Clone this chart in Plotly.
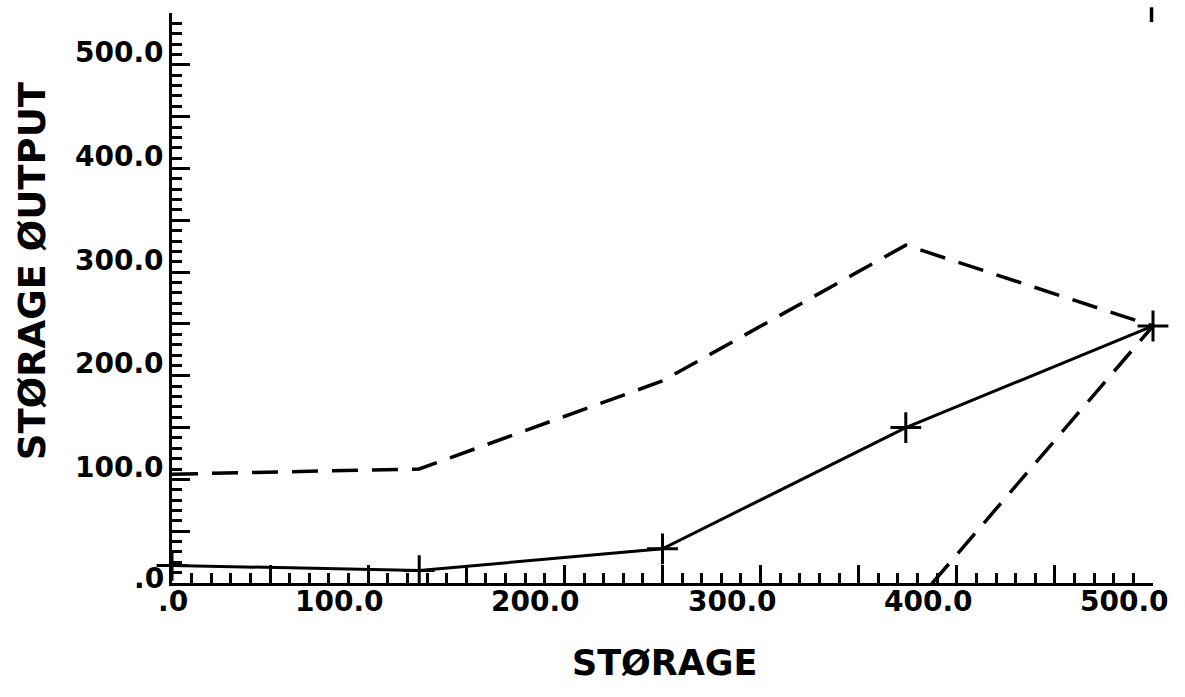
import plotly.graph_objects as go

# ---- data ----
storage = [0, 126, 250, 374, 500]
output_mean = [17, 12, 33, 150, 248]
output_upper = [105, 110, 195, 326, 248]
lower_x = [374, 500]
output_lower = [-30, 248]

x_tick_vals = [0, 100, 200, 300, 400, 500]
x_tick_text = [".0", "100.0", "200.0", "300.0", "400.0", "500.0"]
y_tick_vals = [0, 100, 200, 300, 400, 500]
y_tick_text = [".0", "100.0", "200.0", "300.0", "400.0", "500.0"]

x_title = "STØRAGE"
y_title = "STØRAGE ØUTPUT"

tick_font = dict(family="DejaVu Sans", size=28, color="black", weight="bold")
title_font = dict(family="DejaVu Sans", size=35, color="black", weight="bold")
ytitle_font = dict(family="DejaVu Sans", size=37, color="black", weight="bold")

fig = go.Figure()

fig.add_trace(go.Scatter(
    x=storage, y=output_upper, mode="lines",
    line=dict(color="black", width=3.5, dash="26px,14px"),
    showlegend=False, hoverinfo="skip"))

fig.add_trace(go.Scatter(
    x=lower_x, y=output_lower, mode="lines",
    line=dict(color="black", width=3.5, dash="26px,14px"),
    showlegend=False, hoverinfo="skip"))

fig.add_trace(go.Scatter(
    x=storage, y=output_mean, mode="lines+markers",
    line=dict(color="black", width=3),
    marker=dict(symbol="cross-thin", size=22, color="black",
                line=dict(color="black", width=3)),
    showlegend=False, hoverinfo="skip", cliponaxis=False))

axis_common = dict(
    showgrid=False, zeroline=False, showline=True,
    linecolor="black", linewidth=3,
    ticks="inside", ticklen=18, tickwidth=2.5, tickcolor="black",
    showticklabels=False, dtick=50, tick0=0,
    minor=dict(ticks="inside", ticklen=10, tickwidth=2.5,
               tickcolor="black", dtick=10, tick0=0, showgrid=False),
)

fig.update_xaxes(range=[0, 500], **axis_common)
fig.update_yaxes(range=[0, 550], **axis_common)

annotations = []
for v, t in zip(x_tick_vals, x_tick_text):
    annotations.append(dict(
        x=v, y=0, xref="x", yref="paper", text=t, showarrow=False,
        xanchor="right", yanchor="middle", xshift=18, yshift=-18,
        font=tick_font))
for v, t in zip(y_tick_vals, y_tick_text):
    annotations.append(dict(
        x=0, y=v, xref="paper", yref="y", text=t, showarrow=False,
        xanchor="right", yanchor="middle", xshift=-6,
        yshift=5 if v == 0 else 12,
        font=tick_font))

annotations.append(dict(
    x=0.5026, y=-0.14, xref="paper", yref="paper", text=x_title,
    showarrow=False, xanchor="center", yanchor="middle", font=title_font))
annotations.append(dict(
    x=-0.1427, y=0.547, xref="paper", yref="paper", text=y_title,
    showarrow=False, xanchor="center", yanchor="middle", textangle=-90,
    font=ytitle_font))

fig.update_layout(
    width=1185, height=697,
    margin=dict(l=172, r=32, t=13, b=114),
    paper_bgcolor="white", plot_bgcolor="white",
    annotations=annotations,
    shapes=[dict(type="line", xref="paper", yref="paper",
                 x0=0.9985, x1=0.9985, y0=0.984, y1=1.010,
                 line=dict(color="black", width=3.5))],
)

fig.write_html("out.html")
